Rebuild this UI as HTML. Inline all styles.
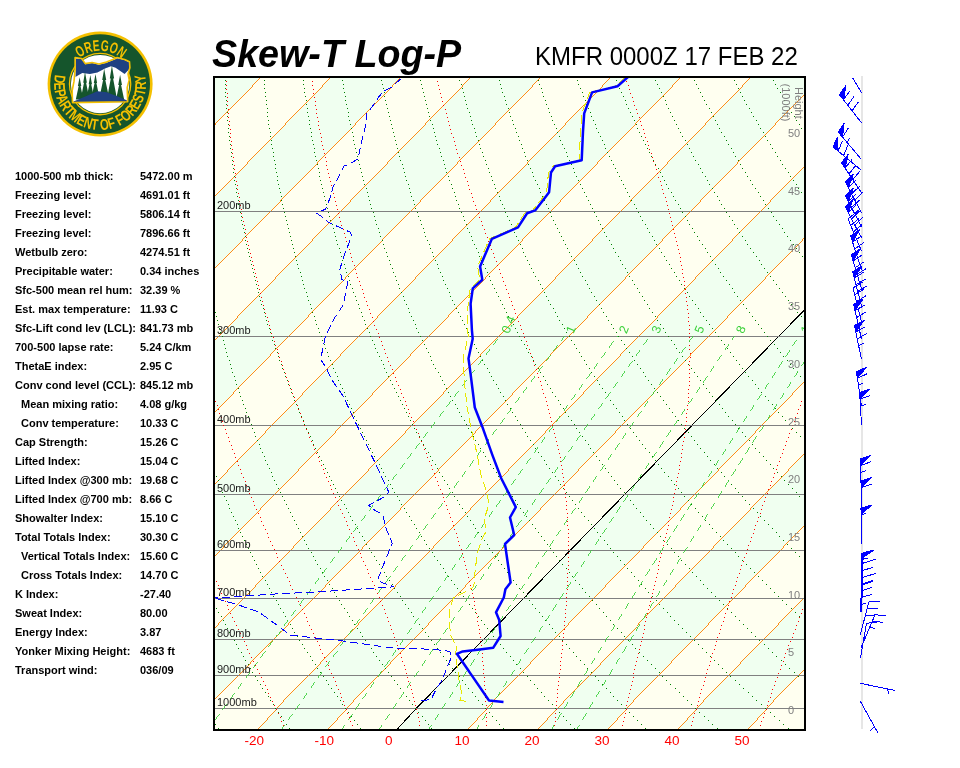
<!DOCTYPE html>
<html><head><meta charset="utf-8"><title>Skew-T Log-P</title>
<style>
html,body{margin:0;padding:0;background:#fff;}
body{width:960px;height:768px;position:relative;overflow:hidden;font-family:"Liberation Sans",sans-serif;}
#title{position:absolute;left:212px;top:28.5px;transform:scaleY(1.045);transform-origin:0 75%;font-size:37.7px;font-weight:bold;font-style:italic;line-height:50px;white-space:nowrap;color:#000;}
#sub{position:absolute;left:534.5px;top:42px;transform:scaleY(1.04);transform-origin:0 75%;font-size:24px;line-height:30px;white-space:nowrap;color:#000;}
#frame{position:absolute;left:213px;top:76px;width:589px;height:651px;border:2px solid #000;}
svg{position:absolute;left:0;top:0;will-change:transform;}
.row,#title,#sub{will-change:transform;}
.row{position:absolute;left:15px;font-size:11px;font-weight:bold;line-height:19px;white-space:nowrap;color:#000;}
.row span{position:absolute;left:125px;top:0;}
.row.ind{left:21px;}
.row.ind span{left:119px;}
</style></head><body>
<svg width="960" height="768" viewBox="0 0 960 768" shape-rendering="crispEdges" font-family="Liberation Sans, sans-serif">
<defs><clipPath id="pc"><rect x="215" y="78" width="589" height="651"/></clipPath></defs>
<g clip-path="url(#pc)">
<rect x="215" y="78" width="589" height="651" fill="#fffff0"/>
<polygon points="-582.6,729.0 -563.8,708.5 50.3,78.0 120.3,78.0 -493.8,708.5 -512.6,729.0" fill="#f0fff0"/>
<polygon points="-442.6,729.0 -423.8,708.5 190.3,78.0 260.3,78.0 -353.8,708.5 -372.6,729.0" fill="#f0fff0"/>
<polygon points="-302.6,729.0 -283.8,708.5 330.3,78.0 400.3,78.0 -213.8,708.5 -232.6,729.0" fill="#f0fff0"/>
<polygon points="-162.6,729.0 -143.8,708.5 470.3,78.0 540.3,78.0 -73.8,708.5 -92.6,729.0" fill="#f0fff0"/>
<polygon points="-22.6,729.0 -3.8,708.5 610.3,78.0 680.3,78.0 66.2,708.5 47.4,729.0" fill="#f0fff0"/>
<polygon points="117.4,729.0 136.2,708.5 750.3,78.0 820.3,78.0 206.2,708.5 187.4,729.0" fill="#f0fff0"/>
<polygon points="257.4,729.0 276.2,708.5 890.3,78.0 960.3,78.0 346.2,708.5 327.4,729.0" fill="#f0fff0"/>
<polygon points="397.4,729.0 416.2,708.5 1030.3,78.0 1100.3,78.0 486.2,708.5 467.4,729.0" fill="#f0fff0"/>
<polygon points="537.4,729.0 556.2,708.5 1170.3,78.0 1240.3,78.0 626.2,708.5 607.4,729.0" fill="#f0fff0"/>
<polygon points="677.4,729.0 696.2,708.5 1310.3,78.0 1380.3,78.0 766.2,708.5 747.4,729.0" fill="#f0fff0"/>
<polygon points="817.4,729.0 836.2,708.5 1450.3,78.0 1520.3,78.0 906.2,708.5 887.4,729.0" fill="#f0fff0"/>
<polyline points="-582.6,729 -563.8,708.5 50.3,78" fill="none" stroke="#ff8000" stroke-width="0.9" shape-rendering="crispEdges"/>
<polyline points="-512.6,729 -493.8,708.5 120.3,78" fill="none" stroke="#ff8000" stroke-width="0.9" shape-rendering="crispEdges"/>
<polyline points="-442.6,729 -423.8,708.5 190.3,78" fill="none" stroke="#ff8000" stroke-width="0.9" shape-rendering="crispEdges"/>
<polyline points="-372.6,729 -353.8,708.5 260.3,78" fill="none" stroke="#ff8000" stroke-width="0.9" shape-rendering="crispEdges"/>
<polyline points="-302.6,729 -283.8,708.5 330.3,78" fill="none" stroke="#ff8000" stroke-width="0.9" shape-rendering="crispEdges"/>
<polyline points="-232.6,729 -213.8,708.5 400.3,78" fill="none" stroke="#ff8000" stroke-width="0.9" shape-rendering="crispEdges"/>
<polyline points="-162.6,729 -143.8,708.5 470.3,78" fill="none" stroke="#ff8000" stroke-width="0.9" shape-rendering="crispEdges"/>
<polyline points="-92.6,729 -73.8,708.5 540.3,78" fill="none" stroke="#ff8000" stroke-width="0.9" shape-rendering="crispEdges"/>
<polyline points="-22.6,729 -3.8,708.5 610.3,78" fill="none" stroke="#ff8000" stroke-width="0.9" shape-rendering="crispEdges"/>
<polyline points="47.4,729 66.2,708.5 680.3,78" fill="none" stroke="#ff8000" stroke-width="0.9" shape-rendering="crispEdges"/>
<polyline points="117.4,729 136.2,708.5 750.3,78" fill="none" stroke="#ff8000" stroke-width="0.9" shape-rendering="crispEdges"/>
<polyline points="187.4,729 206.2,708.5 820.3,78" fill="none" stroke="#ff8000" stroke-width="0.9" shape-rendering="crispEdges"/>
<polyline points="257.4,729 276.2,708.5 890.3,78" fill="none" stroke="#ff8000" stroke-width="0.9" shape-rendering="crispEdges"/>
<polyline points="327.4,729 346.2,708.5 960.3,78" fill="none" stroke="#ff8000" stroke-width="0.9" shape-rendering="crispEdges"/>
<polyline points="397.4,729 416.2,708.5 1030.3,78" fill="none" stroke="#000" stroke-width="1.0" shape-rendering="crispEdges"/>
<polyline points="467.4,729 486.2,708.5 1100.3,78" fill="none" stroke="#ff8000" stroke-width="0.9" shape-rendering="crispEdges"/>
<polyline points="537.4,729 556.2,708.5 1170.3,78" fill="none" stroke="#ff8000" stroke-width="0.9" shape-rendering="crispEdges"/>
<polyline points="607.4,729 626.2,708.5 1240.3,78" fill="none" stroke="#ff8000" stroke-width="0.9" shape-rendering="crispEdges"/>
<polyline points="677.4,729 696.2,708.5 1310.3,78" fill="none" stroke="#ff8000" stroke-width="0.9" shape-rendering="crispEdges"/>
<polyline points="747.4,729 766.2,708.5 1380.3,78" fill="none" stroke="#ff8000" stroke-width="0.9" shape-rendering="crispEdges"/>
<polyline points="817.4,729 836.2,708.5 1450.3,78" fill="none" stroke="#ff8000" stroke-width="0.9" shape-rendering="crispEdges"/>
<rect x="215" y="211" width="589" height="1" fill="#808080"/>
<rect x="215" y="336" width="589" height="1" fill="#808080"/>
<rect x="215" y="425" width="589" height="1" fill="#808080"/>
<rect x="215" y="494" width="589" height="1" fill="#808080"/>
<rect x="215" y="550" width="589" height="1" fill="#808080"/>
<rect x="215" y="598" width="589" height="1" fill="#808080"/>
<rect x="215" y="639" width="589" height="1" fill="#808080"/>
<rect x="215" y="675" width="589" height="1" fill="#808080"/>
<rect x="215" y="708" width="589" height="1" fill="#808080"/>
<path d="M215 724h1M218 728h1" stroke="#008000" stroke-width="1" fill="none" transform="translate(0,0.5)"/>
<path d="M216 608h1M218 612h1M221 616h1M223 620h1M225 624h1M227 628h1M229 632h1M231 636h1M234 640h1M236 644h1M238 648h1M241 652h1M243 656h1M245 660h1M248 664h1M250 668h1M252 672h1M255 676h1M257 680h1M260 684h1M262 688h1M265 692h1M268 696h1M270 700h1M273 704h1M275 708h1M278 712h1M281 716h1M283 720h1M286 724h1M289 728h1" stroke="#008000" stroke-width="1" fill="none" transform="translate(0,0.5)"/>
<path d="M216 476h1M218 480h1M219 484h1M221 488h1M222 492h1M224 496h1M226 500h1M228 504h1M229 508h1M231 512h1M233 516h1M235 520h1M237 524h1M238 528h1M240 532h1M242 536h1M244 540h1M246 544h1M248 548h1M250 552h1M252 556h1M254 560h1M256 564h1M258 568h1M260 572h1M262 576h1M265 580h1M267 584h1M269 588h1M271 592h1M273 596h1M276 600h1M278 604h1M280 608h1M283 612h1M285 616h1M287 620h1M290 624h1M292 628h1M294 632h1M297 636h1M299 640h1M302 644h1M304 648h1M307 652h1M310 656h1M312 660h1M315 664h1M317 668h1M320 672h1M323 676h1M326 680h1M328 684h1M331 688h1M334 692h1M337 696h1M340 700h1M342 704h1M345 708h1M348 712h1M351 716h1M354 720h1M357 724h1M360 728h1" stroke="#008000" stroke-width="1" fill="none" transform="translate(0,0.5)"/>
<path d="M215 312h1M216 316h1M217 320h1M218 324h1M219 328h1M220 332h1M222 336h1M223 340h1M224 344h1M225 348h1M226 352h1M227 356h1M229 360h1M230 364h1M231 368h1M232 372h1M234 376h1M235 380h1M236 384h1M238 388h1M239 392h1M240 396h1M242 400h1M243 404h1M245 408h1M246 412h1M248 416h1M249 420h1M251 424h1M252 428h1M254 432h1M255 436h1M257 440h1M259 444h1M260 448h1M262 452h1M264 456h1M265 460h1M267 464h1M269 468h1M271 472h1M272 476h1M274 480h1M276 484h1M278 488h1M280 492h1M282 496h1M284 500h1M286 504h1M288 508h1M290 512h1M292 516h1M294 520h1M296 524h1M298 528h1M300 532h1M302 536h1M304 540h1M306 544h1M308 548h1M311 552h1M313 556h1M315 560h1M317 564h1M320 568h1M322 572h1M324 576h1M327 580h1M329 584h1M332 588h1M334 592h1M336 596h1M339 600h1M341 604h1M344 608h1M347 612h1M349 616h1M352 620h1M354 624h1M357 628h1M360 632h1M362 636h1M365 640h1M368 644h1M371 648h1M373 652h1M376 656h1M379 660h1M382 664h1M385 668h1M388 672h1M391 676h1M394 680h1M397 684h1M400 688h1M403 692h1M406 696h1M409 700h1M412 704h1M415 708h1M418 712h1M422 716h1M425 720h1M428 724h1M431 728h1" stroke="#008000" stroke-width="1" fill="none" transform="translate(0,0.5)"/>
<path d="M225 80h1M225 84h1M225 88h1M225 92h1M225 96h1M226 100h1M226 104h1M226 108h1M227 112h1M227 116h1M227 120h1M228 124h1M228 128h1M228 132h1M229 136h1M229 140h1M230 144h1M230 148h1M231 152h1M231 156h1M232 160h1M232 164h1M233 168h1M233 172h1M234 176h1M234 180h1M235 184h1M236 188h1M236 192h1M237 196h1M238 200h1M238 204h1M239 208h1M240 212h1M241 216h1M241 220h1M242 224h1M243 228h1M244 232h1M245 236h1M245 240h1M246 244h1M247 248h1M248 252h1M249 256h1M250 260h1M251 264h1M252 268h1M253 272h1M254 276h1M255 280h1M256 284h1M257 288h1M258 292h1M259 296h1M260 300h1M261 304h1M263 308h1M264 312h1M265 316h1M266 320h1M267 324h1M269 328h1M270 332h1M271 336h1M272 340h1M274 344h1M275 348h1M277 352h1M278 356h1M279 360h1M281 364h1M282 368h1M284 372h1M285 376h1M287 380h1M288 384h1M290 388h1M291 392h1M293 396h1M294 400h1M296 404h1M298 408h1M299 412h1M301 416h1M303 420h1M304 424h1M306 428h1M308 432h1M310 436h1M312 440h1M313 444h1M315 448h1M317 452h1M319 456h1M321 460h1M323 464h1M325 468h1M327 472h1M329 476h1M331 480h1M333 484h1M335 488h1M337 492h1M339 496h1M341 500h1M344 504h1M346 508h1M348 512h1M350 516h1M352 520h1M355 524h1M357 528h1M359 532h1M362 536h1M364 540h1M366 544h1M369 548h1M371 552h1M374 556h1M376 560h1M379 564h1M381 568h1M384 572h1M386 576h1M389 580h1M392 584h1M394 588h1M397 592h1M400 596h1M402 600h1M405 604h1M408 608h1M411 612h1M413 616h1M416 620h1M419 624h1M422 628h1M425 632h1M428 636h1M431 640h1M434 644h1M437 648h1M440 652h1M443 656h1M446 660h1M449 664h1M452 668h1M455 672h1M459 676h1M462 680h1M465 684h1M468 688h1M472 692h1M475 696h1M478 700h1M482 704h1M485 708h1M489 712h1M492 716h1M496 720h1M499 724h1M503 728h1" stroke="#008000" stroke-width="1" fill="none" transform="translate(0,0.5)"/>
<path d="M264 80h1M264 84h1M264 88h1M265 92h1M265 96h1M266 100h1M266 104h1M267 108h1M267 112h1M267 116h1M268 120h1M268 124h1M269 128h1M270 132h1M270 136h1M271 140h1M271 144h1M272 148h1M273 152h1M273 156h1M274 160h1M275 164h1M275 168h1M276 172h1M277 176h1M277 180h1M278 184h1M279 188h1M280 192h1M281 196h1M281 200h1M282 204h1M283 208h1M284 212h1M285 216h1M286 220h1M287 224h1M288 228h1M289 232h1M290 236h1M291 240h1M292 244h1M293 248h1M294 252h1M295 256h1M296 260h1M297 264h1M298 268h1M300 272h1M301 276h1M302 280h1M303 284h1M304 288h1M306 292h1M307 296h1M308 300h1M310 304h1M311 308h1M312 312h1M314 316h1M315 320h1M316 324h1M318 328h1M319 332h1M321 336h1M322 340h1M324 344h1M325 348h1M327 352h1M328 356h1M330 360h1M332 364h1M333 368h1M335 372h1M337 376h1M338 380h1M340 384h1M342 388h1M344 392h1M345 396h1M347 400h1M349 404h1M351 408h1M353 412h1M354 416h1M356 420h1M358 424h1M360 428h1M362 432h1M364 436h1M366 440h1M368 444h1M370 448h1M372 452h1M374 456h1M377 460h1M379 464h1M381 468h1M383 472h1M385 476h1M388 480h1M390 484h1M392 488h1M394 492h1M397 496h1M399 500h1M401 504h1M404 508h1M406 512h1M409 516h1M411 520h1M414 524h1M416 528h1M419 532h1M421 536h1M424 540h1M426 544h1M429 548h1M432 552h1M434 556h1M437 560h1M440 564h1M443 568h1M445 572h1M448 576h1M451 580h1M454 584h1M457 588h1M460 592h1M463 596h1M466 600h1M469 604h1M472 608h1M475 612h1M478 616h1M481 620h1M484 624h1M487 628h1M490 632h1M493 636h1M497 640h1M500 644h1M503 648h1M506 652h1M510 656h1M513 660h1M516 664h1M520 668h1M523 672h1M527 676h1M530 680h1M534 684h1M537 688h1M541 692h1M544 696h1M548 700h1M552 704h1M555 708h1M559 712h1M563 716h1M566 720h1M570 724h1M574 728h1" stroke="#008000" stroke-width="1" fill="none" transform="translate(0,0.5)"/>
<path d="M303 80h1M303 84h1M304 88h1M304 92h1M305 96h1M306 100h1M306 104h1M307 108h1M307 112h1M308 116h1M309 120h1M309 124h1M310 128h1M311 132h1M311 136h1M312 140h1M313 144h1M314 148h1M314 152h1M315 156h1M316 160h1M317 164h1M318 168h1M319 172h1M319 176h1M320 180h1M321 184h1M322 188h1M323 192h1M324 196h1M325 200h1M326 204h1M327 208h1M328 212h1M329 216h1M330 220h1M332 224h1M333 228h1M334 232h1M335 236h1M336 240h1M337 244h1M339 248h1M340 252h1M341 256h1M342 260h1M344 264h1M345 268h1M346 272h1M348 276h1M349 280h1M350 284h1M352 288h1M353 292h1M355 296h1M356 300h1M358 304h1M359 308h1M361 312h1M362 316h1M364 320h1M365 324h1M367 328h1M369 332h1M370 336h1M372 340h1M374 344h1M375 348h1M377 352h1M379 356h1M381 360h1M383 364h1M384 368h1M386 372h1M388 376h1M390 380h1M392 384h1M394 388h1M396 392h1M398 396h1M400 400h1M402 404h1M404 408h1M406 412h1M408 416h1M410 420h1M412 424h1M414 428h1M416 432h1M419 436h1M421 440h1M423 444h1M425 448h1M428 452h1M430 456h1M432 460h1M435 464h1M437 468h1M439 472h1M442 476h1M444 480h1M447 484h1M449 488h1M452 492h1M454 496h1M457 500h1M459 504h1M462 508h1M465 512h1M467 516h1M470 520h1M473 524h1M475 528h1M478 532h1M481 536h1M484 540h1M487 544h1M489 548h1M492 552h1M495 556h1M498 560h1M501 564h1M504 568h1M507 572h1M510 576h1M513 580h1M516 584h1M519 588h1M523 592h1M526 596h1M529 600h1M532 604h1M535 608h1M539 612h1M542 616h1M545 620h1M549 624h1M552 628h1M555 632h1M559 636h1M562 640h1M566 644h1M569 648h1M573 652h1M576 656h1M580 660h1M584 664h1M587 668h1M591 672h1M595 676h1M598 680h1M602 684h1M606 688h1M610 692h1M613 696h1M617 700h1M621 704h1M625 708h1M629 712h1M633 716h1M637 720h1M641 724h1M645 728h1" stroke="#008000" stroke-width="1" fill="none" transform="translate(0,0.5)"/>
<path d="M342 80h1M343 84h1M343 88h1M344 92h1M345 96h1M345 100h1M346 104h1M347 108h1M348 112h1M348 116h1M349 120h1M350 124h1M351 128h1M352 132h1M353 136h1M353 140h1M354 144h1M355 148h1M356 152h1M357 156h1M358 160h1M359 164h1M360 168h1M361 172h1M362 176h1M363 180h1M364 184h1M366 188h1M367 192h1M368 196h1M369 200h1M370 204h1M371 208h1M373 212h1M374 216h1M375 220h1M376 224h1M378 228h1M379 232h1M380 236h1M382 240h1M383 244h1M384 248h1M386 252h1M387 256h1M389 260h1M390 264h1M392 268h1M393 272h1M395 276h1M396 280h1M398 284h1M399 288h1M401 292h1M403 296h1M404 300h1M406 304h1M408 308h1M409 312h1M411 316h1M413 320h1M415 324h1M416 328h1M418 332h1M420 336h1M422 340h1M424 344h1M426 348h1M428 352h1M430 356h1M431 360h1M433 364h1M435 368h1M438 372h1M440 376h1M442 380h1M444 384h1M446 388h1M448 392h1M450 396h1M452 400h1M455 404h1M457 408h1M459 412h1M461 416h1M464 420h1M466 424h1M468 428h1M471 432h1M473 436h1M475 440h1M478 444h1M480 448h1M483 452h1M485 456h1M488 460h1M490 464h1M493 468h1M496 472h1M498 476h1M501 480h1M504 484h1M506 488h1M509 492h1M512 496h1M515 500h1M517 504h1M520 508h1M523 512h1M526 516h1M529 520h1M532 524h1M535 528h1M538 532h1M541 536h1M544 540h1M547 544h1M550 548h1M553 552h1M556 556h1M559 560h1M562 564h1M566 568h1M569 572h1M572 576h1M575 580h1M579 584h1M582 588h1M585 592h1M589 596h1M592 600h1M596 604h1M599 608h1M603 612h1M606 616h1M610 620h1M613 624h1M617 628h1M621 632h1M624 636h1M628 640h1M632 644h1M635 648h1M639 652h1M643 656h1M647 660h1M651 664h1M655 668h1M659 672h1M662 676h1M666 680h1M670 684h1M675 688h1M679 692h1M683 696h1M687 700h1M691 704h1M695 708h1M699 712h1M704 716h1M708 720h1M712 724h1M717 728h1" stroke="#008000" stroke-width="1" fill="none" transform="translate(0,0.5)"/>
<path d="M381 80h1M382 84h1M383 88h1M384 92h1M384 96h1M385 100h1M386 104h1M387 108h1M388 112h1M389 116h1M390 120h1M391 124h1M392 128h1M393 132h1M394 136h1M395 140h1M396 144h1M397 148h1M398 152h1M399 156h1M400 160h1M402 164h1M403 168h1M404 172h1M405 176h1M406 180h1M408 184h1M409 188h1M410 192h1M411 196h1M413 200h1M414 204h1M415 208h1M417 212h1M418 216h1M420 220h1M421 224h1M423 228h1M424 232h1M425 236h1M427 240h1M429 244h1M430 248h1M432 252h1M433 256h1M435 260h1M437 264h1M438 268h1M440 272h1M442 276h1M443 280h1M445 284h1M447 288h1M449 292h1M450 296h1M452 300h1M454 304h1M456 308h1M458 312h1M460 316h1M462 320h1M464 324h1M466 328h1M468 332h1M470 336h1M472 340h1M474 344h1M476 348h1M478 352h1M480 356h1M482 360h1M484 364h1M487 368h1M489 372h1M491 376h1M493 380h1M496 384h1M498 388h1M500 392h1M503 396h1M505 400h1M507 404h1M510 408h1M512 412h1M515 416h1M517 420h1M520 424h1M522 428h1M525 432h1M527 436h1M530 440h1M533 444h1M535 448h1M538 452h1M541 456h1M544 460h1M546 464h1M549 468h1M552 472h1M555 476h1M558 480h1M560 484h1M563 488h1M566 492h1M569 496h1M572 500h1M575 504h1M578 508h1M581 512h1M584 516h1M588 520h1M591 524h1M594 528h1M597 532h1M600 536h1M604 540h1M607 544h1M610 548h1M613 552h1M617 556h1M620 560h1M624 564h1M627 568h1M631 572h1M634 576h1M638 580h1M641 584h1M645 588h1M648 592h1M652 596h1M656 600h1M659 604h1M663 608h1M667 612h1M670 616h1M674 620h1M678 624h1M682 628h1M686 632h1M690 636h1M694 640h1M698 644h1M702 648h1M706 652h1M710 656h1M714 660h1M718 664h1M722 668h1M726 672h1M730 676h1M735 680h1M739 684h1M743 688h1M748 692h1M752 696h1M756 700h1M761 704h1M765 708h1M770 712h1M774 716h1M779 720h1M783 724h1M788 728h1" stroke="#008000" stroke-width="1" fill="none" transform="translate(0,0.5)"/>
<path d="M420 80h1M421 84h1M422 88h1M423 92h1M424 96h1M425 100h1M426 104h1M427 108h1M428 112h1M429 116h1M430 120h1M432 124h1M433 128h1M434 132h1M435 136h1M436 140h1M437 144h1M439 148h1M440 152h1M441 156h1M443 160h1M444 164h1M445 168h1M446 172h1M448 176h1M449 180h1M451 184h1M452 188h1M454 192h1M455 196h1M456 200h1M458 204h1M459 208h1M461 212h1M463 216h1M464 220h1M466 224h1M467 228h1M469 232h1M471 236h1M472 240h1M474 244h1M476 248h1M478 252h1M479 256h1M481 260h1M483 264h1M485 268h1M487 272h1M489 276h1M490 280h1M492 284h1M494 288h1M496 292h1M498 296h1M500 300h1M502 304h1M504 308h1M506 312h1M508 316h1M511 320h1M513 324h1M515 328h1M517 332h1M519 336h1M521 340h1M524 344h1M526 348h1M528 352h1M531 356h1M533 360h1M535 364h1M538 368h1M540 372h1M543 376h1M545 380h1M547 384h1M550 388h1M552 392h1M555 396h1M558 400h1M560 404h1M563 408h1M565 412h1M568 416h1M571 420h1M574 424h1M576 428h1M579 432h1M582 436h1M585 440h1M588 444h1M590 448h1M593 452h1M596 456h1M599 460h1M602 464h1M605 468h1M608 472h1M611 476h1M614 480h1M617 484h1M620 488h1M624 492h1M627 496h1M630 500h1M633 504h1M636 508h1M640 512h1M643 516h1M646 520h1M650 524h1M653 528h1M657 532h1M660 536h1M663 540h1M667 544h1M671 548h1M674 552h1M678 556h1M681 560h1M685 564h1M689 568h1M692 572h1M696 576h1M700 580h1M703 584h1M707 588h1M711 592h1M715 596h1M719 600h1M723 604h1M727 608h1M731 612h1M735 616h1M739 620h1M743 624h1M747 628h1M751 632h1M755 636h1M759 640h1M764 644h1M768 648h1M772 652h1M776 656h1M781 660h1M785 664h1M789 668h1M794 672h1M798 676h1" stroke="#008000" stroke-width="1" fill="none" transform="translate(0,0.5)"/>
<path d="M459 80h1M461 84h1M462 88h1M463 92h1M464 96h1M465 100h1M466 104h1M467 108h1M469 112h1M470 116h1M471 120h1M472 124h1M474 128h1M475 132h1M476 136h1M478 140h1M479 144h1M480 148h1M482 152h1M483 156h1M485 160h1M486 164h1M488 168h1M489 172h1M491 176h1M492 180h1M494 184h1M495 188h1M497 192h1M499 196h1M500 200h1M502 204h1M504 208h1M505 212h1M507 216h1M509 220h1M511 224h1M512 228h1M514 232h1M516 236h1M518 240h1M520 244h1M522 248h1M523 252h1M525 256h1M527 260h1M529 264h1M531 268h1M533 272h1M535 276h1M538 280h1M540 284h1M542 288h1M544 292h1M546 296h1M548 300h1M550 304h1M553 308h1M555 312h1M557 316h1M559 320h1M562 324h1M564 328h1M566 332h1M569 336h1M571 340h1M574 344h1M576 348h1M579 352h1M581 356h1M584 360h1M586 364h1M589 368h1M591 372h1M594 376h1M597 380h1M599 384h1M602 388h1M605 392h1M607 396h1M610 400h1M613 404h1M616 408h1M619 412h1M622 416h1M624 420h1M627 424h1M630 428h1M633 432h1M636 436h1M639 440h1M642 444h1M645 448h1M649 452h1M652 456h1M655 460h1M658 464h1M661 468h1M664 472h1M668 476h1M671 480h1M674 484h1M678 488h1M681 492h1M684 496h1M688 500h1M691 504h1M695 508h1M698 512h1M702 516h1M705 520h1M709 524h1M712 528h1M716 532h1M720 536h1M723 540h1M727 544h1M731 548h1M735 552h1M738 556h1M742 560h1M746 564h1M750 568h1M754 572h1M758 576h1M762 580h1M766 584h1M770 588h1M774 592h1M778 596h1M782 600h1M786 604h1M791 608h1M795 612h1M799 616h1" stroke="#008000" stroke-width="1" fill="none" transform="translate(0,0.5)"/>
<path d="M499 80h1M500 84h1M501 88h1M502 92h1M504 96h1M505 100h1M506 104h1M508 108h1M509 112h1M510 116h1M512 120h1M513 124h1M515 128h1M516 132h1M518 136h1M519 140h1M521 144h1M522 148h1M524 152h1M525 156h1M527 160h1M528 164h1M530 168h1M532 172h1M533 176h1M535 180h1M537 184h1M539 188h1M540 192h1M542 196h1M544 200h1M546 204h1M548 208h1M550 212h1M551 216h1M553 220h1M555 224h1M557 228h1M559 232h1M561 236h1M563 240h1M565 244h1M567 248h1M569 252h1M571 256h1M574 260h1M576 264h1M578 268h1M580 272h1M582 276h1M585 280h1M587 284h1M589 288h1M591 292h1M594 296h1M596 300h1M599 304h1M601 308h1M603 312h1M606 316h1M608 320h1M611 324h1M613 328h1M616 332h1M618 336h1M621 340h1M624 344h1M626 348h1M629 352h1M632 356h1M634 360h1M637 364h1M640 368h1M643 372h1M645 376h1M648 380h1M651 384h1M654 388h1M657 392h1M660 396h1M663 400h1M666 404h1M669 408h1M672 412h1M675 416h1M678 420h1M681 424h1M684 428h1M688 432h1M691 436h1M694 440h1M697 444h1M700 448h1M704 452h1M707 456h1M710 460h1M714 464h1M717 468h1M721 472h1M724 476h1M728 480h1M731 484h1M735 488h1M738 492h1M742 496h1M745 500h1M749 504h1M753 508h1M757 512h1M760 516h1M764 520h1M768 524h1M772 528h1M776 532h1M779 536h1M783 540h1M787 544h1M791 548h1M795 552h1M799 556h1" stroke="#008000" stroke-width="1" fill="none" transform="translate(0,0.5)"/>
<path d="M538 80h1M539 84h1M541 88h1M542 92h1M543 96h1M545 100h1M546 104h1M548 108h1M549 112h1M551 116h1M552 120h1M554 124h1M556 128h1M557 132h1M559 136h1M560 140h1M562 144h1M564 148h1M566 152h1M567 156h1M569 160h1M571 164h1M573 168h1M574 172h1M576 176h1M578 180h1M580 184h1M582 188h1M584 192h1M586 196h1M588 200h1M590 204h1M592 208h1M594 212h1M596 216h1M598 220h1M600 224h1M602 228h1M604 232h1M606 236h1M609 240h1M611 244h1M613 248h1M615 252h1M618 256h1M620 260h1M622 264h1M625 268h1M627 272h1M629 276h1M632 280h1M634 284h1M637 288h1M639 292h1M642 296h1M644 300h1M647 304h1M649 308h1M652 312h1M655 316h1M657 320h1M660 324h1M663 328h1M665 332h1M668 336h1M671 340h1M674 344h1M676 348h1M679 352h1M682 356h1M685 360h1M688 364h1M691 368h1M694 372h1M697 376h1M700 380h1M703 384h1M706 388h1M709 392h1M712 396h1M716 400h1M719 404h1M722 408h1M725 412h1M728 416h1M732 420h1M735 424h1M738 428h1M742 432h1M745 436h1M749 440h1M752 444h1M755 448h1M759 452h1M763 456h1M766 460h1M770 464h1M773 468h1M777 472h1M781 476h1M784 480h1M788 484h1M792 488h1M796 492h1M799 496h1" stroke="#008000" stroke-width="1" fill="none" transform="translate(0,0.5)"/>
<path d="M577 80h1M578 84h1M580 88h1M582 92h1M583 96h1M585 100h1M586 104h1M588 108h1M590 112h1M591 116h1M593 120h1M595 124h1M596 128h1M598 132h1M600 136h1M602 140h1M604 144h1M605 148h1M607 152h1M609 156h1M611 160h1M613 164h1M615 168h1M617 172h1M619 176h1M621 180h1M623 184h1M625 188h1M627 192h1M629 196h1M631 200h1M634 204h1M636 208h1M638 212h1M640 216h1M642 220h1M645 224h1M647 228h1M649 232h1M652 236h1M654 240h1M656 244h1M659 248h1M661 252h1M664 256h1M666 260h1M669 264h1M671 268h1M674 272h1M676 276h1M679 280h1M681 284h1M684 288h1M687 292h1M689 296h1M692 300h1M695 304h1M698 308h1M700 312h1M703 316h1M706 320h1M709 324h1M712 328h1M715 332h1M718 336h1M721 340h1M724 344h1M727 348h1M730 352h1M733 356h1M736 360h1M739 364h1M742 368h1M745 372h1M748 376h1M752 380h1M755 384h1M758 388h1M761 392h1M765 396h1M768 400h1M772 404h1M775 408h1M778 412h1M782 416h1M785 420h1M789 424h1M792 428h1M796 432h1M800 436h1" stroke="#008000" stroke-width="1" fill="none" transform="translate(0,0.5)"/>
<path d="M616 80h1M618 84h1M619 88h1M621 92h1M623 96h1M625 100h1M626 104h1M628 108h1M630 112h1M632 116h1M634 120h1M636 124h1M637 128h1M639 132h1M641 136h1M643 140h1M645 144h1M647 148h1M649 152h1M651 156h1M653 160h1M655 164h1M658 168h1M660 172h1M662 176h1M664 180h1M666 184h1M668 188h1M671 192h1M673 196h1M675 200h1M678 204h1M680 208h1M682 212h1M685 216h1M687 220h1M689 224h1M692 228h1M694 232h1M697 236h1M699 240h1M702 244h1M705 248h1M707 252h1M710 256h1M712 260h1M715 264h1M718 268h1M720 272h1M723 276h1M726 280h1M729 284h1M732 288h1M734 292h1M737 296h1M740 300h1M743 304h1M746 308h1M749 312h1M752 316h1M755 320h1M758 324h1M761 328h1M764 332h1M767 336h1M770 340h1M774 344h1M777 348h1M780 352h1M783 356h1M787 360h1M790 364h1M793 368h1M797 372h1M800 376h1" stroke="#008000" stroke-width="1" fill="none" transform="translate(0,0.5)"/>
<path d="M655 80h1M657 84h1M659 88h1M661 92h1M663 96h1M665 100h1M666 104h1M668 108h1M670 112h1M672 116h1M674 120h1M676 124h1M678 128h1M680 132h1M682 136h1M685 140h1M687 144h1M689 148h1M691 152h1M693 156h1M695 160h1M698 164h1M700 168h1M702 172h1M705 176h1M707 180h1M709 184h1M712 188h1M714 192h1M717 196h1M719 200h1M721 204h1M724 208h1M726 212h1M729 216h1M732 220h1M734 224h1M737 228h1M739 232h1M742 236h1M745 240h1M747 244h1M750 248h1M753 252h1M756 256h1M759 260h1M761 264h1M764 268h1M767 272h1M770 276h1M773 280h1M776 284h1M779 288h1M782 292h1M785 296h1M788 300h1M791 304h1M794 308h1M797 312h1M801 316h1" stroke="#008000" stroke-width="1" fill="none" transform="translate(0,0.5)"/>
<path d="M694 80h1M696 84h1M698 88h1M700 92h1M702 96h1M704 100h1M706 104h1M709 108h1M711 112h1M713 116h1M715 120h1M717 124h1M719 128h1M721 132h1M724 136h1M726 140h1M728 144h1M731 148h1M733 152h1M735 156h1M738 160h1M740 164h1M742 168h1M745 172h1M747 176h1M750 180h1M752 184h1M755 188h1M758 192h1M760 196h1M763 200h1M765 204h1M768 208h1M771 212h1M773 216h1M776 220h1M779 224h1M782 228h1M784 232h1M787 236h1M790 240h1M793 244h1M796 248h1M799 252h1M802 256h1" stroke="#008000" stroke-width="1" fill="none" transform="translate(0,0.5)"/>
<path d="M734 80h1M736 84h1M738 88h1M740 92h1M742 96h1M744 100h1M746 104h1M749 108h1M751 112h1M753 116h1M756 120h1M758 124h1M760 128h1M763 132h1M765 136h1M767 140h1M770 144h1M772 148h1M775 152h1M777 156h1M780 160h1M782 164h1M785 168h1M788 172h1M790 176h1M793 180h1M796 184h1M798 188h1M801 192h1" stroke="#008000" stroke-width="1" fill="none" transform="translate(0,0.5)"/>
<path d="M773 80h1M775 84h1M777 88h1M780 92h1M782 96h1M784 100h1M787 104h1M789 108h1M791 112h1M794 116h1M796 120h1M799 124h1M801 128h1" stroke="#008000" stroke-width="1" fill="none" transform="translate(0,0.5)"/>
<path d="M216 581h1M218 585h1M219 589h1M221 593h1M223 597h1M225 601h1M227 605h1M228 609h1M230 613h1M232 617h1M234 621h1M236 625h1M238 629h1M240 633h1M242 637h1M244 641h1M246 645h1M247 649h1M249 653h1M251 657h1M253 661h1M255 665h1M257 669h1M259 673h1M261 677h1M263 681h1M265 685h1M267 689h1M268 693h1M270 697h1M272 701h1M274 705h1M276 709h1M278 713h1M280 717h1M281 721h1M283 725h1" stroke="#ff0000" stroke-width="1" fill="none" transform="translate(0,0.5)"/>
<path d="M215 401h1M217 405h1M218 409h1M219 413h1M221 417h1M222 421h1M223 425h1M225 429h1M226 433h1M228 437h1M229 441h1M231 445h1M232 449h1M234 453h1M235 457h1M237 461h1M238 465h1M240 469h1M241 473h1M243 477h1M245 481h1M246 485h1M248 489h1M249 493h1M251 497h1M253 501h1M254 505h1M256 509h1M258 513h1M260 517h1M261 521h1M263 525h1M265 529h1M267 533h1M268 537h1M270 541h1M272 545h1M274 549h1M276 553h1M277 557h1M279 561h1M281 565h1M283 569h1M285 573h1M287 577h1M289 581h1M290 585h1M292 589h1M294 593h1M296 597h1M298 601h1M300 605h1M302 609h1M304 613h1M306 617h1M307 621h1M309 625h1M311 629h1M313 633h1M315 637h1M317 641h1M319 645h1M320 649h1M322 653h1M324 657h1M326 661h1M328 665h1M329 669h1M331 673h1M333 677h1M335 681h1M336 685h1M338 689h1M340 693h1M341 697h1M343 701h1M344 705h1M346 709h1M347 713h1M349 717h1M350 721h1M352 725h1" stroke="#ff0000" stroke-width="1" fill="none" transform="translate(0,0.5)"/>
<path d="M226 81h1M226 85h1M226 89h1M227 93h1M227 97h1M227 101h1M227 105h1M228 109h1M228 113h1M228 117h1M229 121h1M229 125h1M230 129h1M230 133h1M230 137h1M231 141h1M231 145h1M232 149h1M232 153h1M233 157h1M233 161h1M234 165h1M234 169h1M235 173h1M235 177h1M236 181h1M237 185h1M237 189h1M238 193h1M239 197h1M239 201h1M240 205h1M241 209h1M241 213h1M242 217h1M243 221h1M244 225h1M245 229h1M245 233h1M246 237h1M247 241h1M248 245h1M249 249h1M250 253h1M251 257h1M252 261h1M253 265h1M254 269h1M255 273h1M256 277h1M257 281h1M258 285h1M259 289h1M260 293h1M261 297h1M262 301h1M263 305h1M264 309h1M265 313h1M267 317h1M268 321h1M269 325h1M270 329h1M271 333h1M273 337h1M274 341h1M275 345h1M277 349h1M278 353h1M279 357h1M281 361h1M282 365h1M283 369h1M285 373h1M286 377h1M288 381h1M289 385h1M291 389h1M292 393h1M294 397h1M295 401h1M297 405h1M298 409h1M300 413h1M301 417h1M303 421h1M304 425h1M306 429h1M308 433h1M309 437h1M311 441h1M313 445h1M314 449h1M316 453h1M318 457h1M319 461h1M321 465h1M323 469h1M324 473h1M326 477h1M328 481h1M330 485h1M331 489h1M333 493h1M335 497h1M337 501h1M338 505h1M340 509h1M342 513h1M344 517h1M346 521h1M347 525h1M349 529h1M351 533h1M353 537h1M354 541h1M356 545h1M358 549h1M360 553h1M361 557h1M363 561h1M365 565h1M367 569h1M368 573h1M370 577h1M372 581h1M374 585h1M375 589h1M377 593h1M379 597h1M380 601h1M382 605h1M384 609h1M385 613h1M387 617h1M388 621h1M390 625h1M391 629h1M393 633h1M394 637h1M396 641h1M397 645h1M398 649h1M400 653h1M401 657h1M402 661h1M404 665h1M405 669h1M406 673h1M407 677h1M408 681h1M410 685h1M411 689h1M412 693h1M413 697h1M414 701h1M415 705h1M416 709h1M417 713h1M418 717h1M419 721h1M419 725h1" stroke="#ff0000" stroke-width="1" fill="none" transform="translate(0,0.5)"/>
<path d="M312 81h1M312 85h1M313 89h1M313 93h1M314 97h1M315 101h1M315 105h1M316 109h1M316 113h1M317 117h1M318 121h1M318 125h1M319 129h1M320 133h1M321 137h1M321 141h1M322 145h1M323 149h1M324 153h1M325 157h1M326 161h1M326 165h1M327 169h1M328 173h1M329 177h1M330 181h1M331 185h1M332 189h1M333 193h1M334 197h1M335 201h1M336 205h1M337 209h1M338 213h1M339 217h1M340 221h1M341 225h1M343 229h1M344 233h1M345 237h1M346 241h1M347 245h1M349 249h1M350 253h1M351 257h1M352 261h1M354 265h1M355 269h1M356 273h1M357 277h1M359 281h1M360 285h1M362 289h1M363 293h1M364 297h1M366 301h1M367 305h1M369 309h1M370 313h1M372 317h1M373 321h1M374 325h1M376 329h1M378 333h1M379 337h1M381 341h1M382 345h1M384 349h1M385 353h1M387 357h1M388 361h1M390 365h1M392 369h1M393 373h1M395 377h1M396 381h1M398 385h1M400 389h1M401 393h1M403 397h1M405 401h1M406 405h1M408 409h1M409 413h1M411 417h1M413 421h1M414 425h1M416 429h1M418 433h1M419 437h1M421 441h1M423 445h1M424 449h1M426 453h1M427 457h1M429 461h1M431 465h1M432 469h1M434 473h1M435 477h1M437 481h1M438 485h1M440 489h1M442 493h1M443 497h1M444 501h1M446 505h1M447 509h1M449 513h1M450 517h1M452 521h1M453 525h1M454 529h1M456 533h1M457 537h1M458 541h1M459 545h1M461 549h1M462 553h1M463 557h1M464 561h1M465 565h1M466 569h1M467 573h1M468 577h1M469 581h1M470 585h1M471 589h1M472 593h1M473 597h1M474 601h1M474 605h1M475 609h1M476 613h1M477 617h1M477 621h1M478 625h1M479 629h1M479 633h1M480 637h1M480 641h1M481 645h1M481 649h1M482 653h1M482 657h1M482 661h1M483 665h1M483 669h1M483 673h1M484 677h1M484 681h1M484 685h1M485 689h1M485 693h1M485 697h1M485 701h1M486 705h1M486 709h1M486 713h1M486 717h1M486 721h1M486 725h1" stroke="#ff0000" stroke-width="1" fill="none" transform="translate(0,0.5)"/>
<path d="M437 81h1M438 85h1M439 89h1M440 93h1M441 97h1M442 101h1M443 105h1M445 109h1M446 113h1M447 117h1M448 121h1M449 125h1M450 129h1M451 133h1M453 137h1M454 141h1M455 145h1M456 149h1M457 153h1M459 157h1M460 161h1M461 165h1M463 169h1M464 173h1M465 177h1M467 181h1M468 185h1M469 189h1M471 193h1M472 197h1M473 201h1M475 205h1M476 209h1M478 213h1M479 217h1M481 221h1M482 225h1M484 229h1M485 233h1M487 237h1M488 241h1M490 245h1M491 249h1M493 253h1M494 257h1M496 261h1M497 265h1M499 269h1M500 273h1M502 277h1M503 281h1M505 285h1M506 289h1M508 293h1M509 297h1M511 301h1M512 305h1M514 309h1M515 313h1M517 317h1M518 321h1M520 325h1M521 329h1M523 333h1M524 337h1M526 341h1M527 345h1M529 349h1M530 353h1M532 357h1M533 361h1M534 365h1M536 369h1M537 373h1M538 377h1M540 381h1M541 385h1M542 389h1M543 393h1M545 397h1M546 401h1M547 405h1M548 409h1M549 413h1M550 417h1M551 421h1M552 425h1M553 429h1M554 433h1M555 437h1M556 441h1M557 445h1M558 449h1M559 453h1M560 457h1M560 461h1M561 465h1M562 469h1M562 473h1M563 477h1M563 481h1M564 485h1M564 489h1M565 493h1M565 497h1M566 501h1M566 505h1M566 509h1M567 513h1M567 517h1M567 521h1M567 525h1M568 529h1M568 533h1M568 537h1M568 541h1M568 545h1M568 549h1M568 553h1M568 557h1M568 561h1M568 565h1M568 569h1M567 573h1M567 577h1M567 581h1M567 585h1M567 589h1M566 593h1M566 597h1M566 601h1M566 605h1M565 609h1M565 613h1M565 617h1M564 621h1M564 625h1M564 629h1M563 633h1M563 637h1M562 641h1M562 645h1M562 649h1M561 653h1M561 657h1M560 661h1M560 665h1M560 669h1M559 673h1M559 677h1M558 681h1M558 685h1M557 689h1M557 693h1M557 697h1M556 701h1M556 705h1M556 709h1M555 713h1M555 717h1M555 721h1M554 725h1" stroke="#ff0000" stroke-width="1" fill="none" transform="translate(0,0.5)"/>
<path d="M626 81h1M628 85h1M629 89h1M630 93h1M632 97h1M633 101h1M634 105h1M636 109h1M637 113h1M639 117h1M640 121h1M641 125h1M643 129h1M644 133h1M645 137h1M647 141h1M648 145h1M649 149h1M651 153h1M652 157h1M653 161h1M655 165h1M656 169h1M657 173h1M658 177h1M660 181h1M661 185h1M662 189h1M663 193h1M665 197h1M666 201h1M667 205h1M668 209h1M669 213h1M670 217h1M671 221h1M672 225h1M673 229h1M674 233h1M675 237h1M676 241h1M677 245h1M678 249h1M679 253h1M680 257h1M680 261h1M681 265h1M682 269h1M682 273h1M683 277h1M684 281h1M684 285h1M685 289h1M685 293h1M686 297h1M686 301h1M687 305h1M687 309h1M688 313h1M688 317h1M688 321h1M689 325h1M689 329h1M689 333h1M689 337h1M689 341h1M689 345h1M689 349h1M690 353h1M690 357h1M689 361h1M689 365h1M689 369h1M689 373h1M689 377h1M689 381h1M689 385h1M688 389h1M688 393h1M688 397h1M688 401h1M687 405h1M687 409h1M686 413h1M686 417h1M686 421h1M685 425h1M685 429h1M684 433h1M684 437h1M683 441h1M682 445h1M682 449h1M681 453h1M681 457h1M680 461h1M679 465h1M679 469h1M678 473h1M677 477h1M676 481h1M676 485h1M675 489h1M674 493h1M673 497h1M673 501h1M672 505h1M671 509h1M670 513h1M669 517h1M668 521h1M668 525h1M667 529h1M666 533h1M665 537h1M664 541h1M663 545h1M662 549h1M661 553h1M660 557h1M659 561h1M658 565h1M658 569h1M657 573h1M656 577h1M655 581h1M654 585h1M653 589h1M652 593h1M651 597h1M650 601h1M649 605h1M648 609h1M647 613h1M646 617h1M645 621h1M644 625h1M644 629h1M643 633h1M642 637h1M641 641h1M640 645h1M639 649h1M638 653h1M637 657h1M636 661h1M635 665h1M634 669h1M633 673h1M633 677h1M632 681h1M631 685h1M630 689h1M629 693h1M628 697h1M627 701h1M626 705h1M626 709h1M625 713h1M624 717h1M623 721h1M622 725h1" stroke="#ff0000" stroke-width="1" fill="none" transform="translate(0,0.5)"/>
<path d="M801 401h1M800 405h1M798 409h1M797 413h1M795 417h1M794 421h1M792 425h1M791 429h1M789 433h1M788 437h1M786 441h1M785 445h1M783 449h1M782 453h1M780 457h1M779 461h1M777 465h1M776 469h1M774 473h1M773 477h1M771 481h1M770 485h1M768 489h1M767 493h1M765 497h1M764 501h1M762 505h1M761 509h1M760 513h1M758 517h1M757 521h1M755 525h1M754 529h1M753 533h1M751 537h1M750 541h1M748 545h1M747 549h1M746 553h1M744 557h1M743 561h1M741 565h1M740 569h1M739 573h1M737 577h1M736 581h1M735 585h1M733 589h1M732 593h1M731 597h1M729 601h1M728 605h1M727 609h1M725 613h1M724 617h1M723 621h1M721 625h1M720 629h1M719 633h1M717 637h1M716 641h1M715 645h1M714 649h1M712 653h1M711 657h1M710 661h1M709 665h1M707 669h1M706 673h1M705 677h1M704 681h1M703 685h1M701 689h1M700 693h1M699 697h1M698 701h1M697 705h1M696 709h1M694 713h1M693 717h1M692 721h1M691 725h1" stroke="#ff0000" stroke-width="1" fill="none" transform="translate(0,0.5)"/>
<path d="M802 609h1M801 613h1M799 617h1M798 621h1M796 625h1M795 629h1M793 633h1M792 637h1M790 641h1M788 645h1M787 649h1M785 653h1M784 657h1M783 661h1M781 665h1M780 669h1M778 673h1M777 677h1M775 681h1M774 685h1M772 689h1M771 693h1M770 697h1M768 701h1M767 705h1M766 709h1M764 713h1M763 717h1M761 721h1M760 725h1" stroke="#ff0000" stroke-width="1" fill="none" transform="translate(0,0.5)"/>
<path d="M207.1 731.0 L211.5 725.0 L215.8 719.0 L220.2 713.0 L224.6 707.0 L229.0 701.0 L233.3 695.0 L237.7 689.0 L242.1 683.0 L246.5 677.0 L250.9 671.0 L255.3 665.0 L259.7 659.0 L264.0 653.0 L268.4 647.0 L272.8 641.0 L277.3 635.0 L281.7 629.0 L286.1 623.0 L290.5 617.0 L294.9 611.0 L299.3 605.0 L303.7 599.0 L308.2 593.0 L312.6 587.0 L317.0 581.0 L321.4 575.0 L325.9 569.0 L330.3 563.0 L334.8 557.0 L339.2 551.0 L343.6 545.0 L348.1 539.0 L352.5 533.0 L357.0 527.0 L361.4 521.0 L365.9 515.0 L370.4 509.0 L374.8 503.0 L379.3 497.0 L383.8 491.0 L388.2 485.0 L392.7 479.0 L397.2 473.0 L401.7 467.0 L406.1 461.0 L410.6 455.0 L415.1 449.0 L419.6 443.0 L424.1 437.0 L428.6 431.0 L433.1 425.0 L437.6 419.0 L442.1 413.0 L446.6 407.0 L451.1 401.0 L455.6 395.0 L460.1 389.0 L464.6 383.0 L469.1 377.0 L473.7 371.0 L478.2 365.0 L482.7 359.0 L487.2 353.0 L491.8 347.0 L496.3 341.0 L499.8 336.4" stroke="#38d038" stroke-width="0.85" fill="none" stroke-dasharray="7.5 5.5" shape-rendering="crispEdges"/>
<path d="M280.5 731.0 L284.7 725.0 L288.9 719.0 L293.1 713.0 L297.4 707.0 L301.6 701.0 L305.8 695.0 L310.0 689.0 L314.3 683.0 L318.5 677.0 L322.8 671.0 L327.0 665.0 L331.3 659.0 L335.5 653.0 L339.8 647.0 L344.0 641.0 L348.3 635.0 L352.6 629.0 L356.8 623.0 L361.1 617.0 L365.4 611.0 L369.7 605.0 L374.0 599.0 L378.2 593.0 L382.5 587.0 L386.8 581.0 L391.1 575.0 L395.4 569.0 L399.7 563.0 L404.0 557.0 L408.3 551.0 L412.6 545.0 L417.0 539.0 L421.3 533.0 L425.6 527.0 L429.9 521.0 L434.2 515.0 L438.6 509.0 L442.9 503.0 L447.2 497.0 L451.6 491.0 L455.9 485.0 L460.3 479.0 L464.6 473.0 L469.0 467.0 L473.3 461.0 L477.7 455.0 L482.0 449.0 L486.4 443.0 L490.7 437.0 L495.1 431.0 L499.5 425.0 L503.9 419.0 L508.2 413.0 L512.6 407.0 L517.0 401.0 L521.4 395.0 L525.8 389.0 L530.2 383.0 L534.5 377.0 L538.9 371.0 L543.3 365.0 L547.7 359.0 L552.1 353.0 L556.5 347.0 L561.0 341.0 L564.4 336.4" stroke="#38d038" stroke-width="0.85" fill="none" stroke-dasharray="7.5 5.5" shape-rendering="crispEdges"/>
<path d="M340.8 731.0 L344.9 725.0 L349.0 719.0 L353.1 713.0 L357.2 707.0 L361.3 701.0 L365.4 695.0 L369.5 689.0 L373.6 683.0 L377.7 677.0 L381.8 671.0 L386.0 665.0 L390.1 659.0 L394.2 653.0 L398.4 647.0 L402.5 641.0 L406.6 635.0 L410.8 629.0 L414.9 623.0 L419.1 617.0 L423.3 611.0 L427.4 605.0 L431.6 599.0 L435.7 593.0 L439.9 587.0 L444.1 581.0 L448.3 575.0 L452.5 569.0 L456.6 563.0 L460.8 557.0 L465.0 551.0 L469.2 545.0 L473.4 539.0 L477.6 533.0 L481.8 527.0 L486.0 521.0 L490.2 515.0 L494.5 509.0 L498.7 503.0 L502.9 497.0 L507.1 491.0 L511.4 485.0 L515.6 479.0 L519.8 473.0 L524.1 467.0 L528.3 461.0 L532.6 455.0 L536.8 449.0 L541.1 443.0 L545.3 437.0 L549.6 431.0 L553.8 425.0 L558.1 419.0 L562.4 413.0 L566.6 407.0 L570.9 401.0 L575.2 395.0 L579.5 389.0 L583.8 383.0 L588.0 377.0 L592.3 371.0 L596.6 365.0 L600.9 359.0 L605.2 353.0 L609.5 347.0 L613.8 341.0 L617.2 336.4" stroke="#38d038" stroke-width="0.85" fill="none" stroke-dasharray="7.5 5.5" shape-rendering="crispEdges"/>
<path d="M378.2 731.0 L382.2 725.0 L386.2 719.0 L390.2 713.0 L394.2 707.0 L398.2 701.0 L402.3 695.0 L406.3 689.0 L410.3 683.0 L414.4 677.0 L418.4 671.0 L422.5 665.0 L426.5 659.0 L430.6 653.0 L434.6 647.0 L438.7 641.0 L442.8 635.0 L446.8 629.0 L450.9 623.0 L455.0 617.0 L459.1 611.0 L463.2 605.0 L467.2 599.0 L471.3 593.0 L475.4 587.0 L479.5 581.0 L483.6 575.0 L487.8 569.0 L491.9 563.0 L496.0 557.0 L500.1 551.0 L504.2 545.0 L508.3 539.0 L512.5 533.0 L516.6 527.0 L520.7 521.0 L524.9 515.0 L529.0 509.0 L533.2 503.0 L537.3 497.0 L541.5 491.0 L545.6 485.0 L549.8 479.0 L554.0 473.0 L558.1 467.0 L562.3 461.0 L566.5 455.0 L570.7 449.0 L574.9 443.0 L579.0 437.0 L583.2 431.0 L587.4 425.0 L591.6 419.0 L595.8 413.0 L600.0 407.0 L604.2 401.0 L608.4 395.0 L612.7 389.0 L616.9 383.0 L621.1 377.0 L625.3 371.0 L629.5 365.0 L633.8 359.0 L638.0 353.0 L642.2 347.0 L646.5 341.0 L649.8 336.4" stroke="#38d038" stroke-width="0.85" fill="none" stroke-dasharray="7.5 5.5" shape-rendering="crispEdges"/>
<path d="M427.6 731.0 L431.5 725.0 L435.4 719.0 L439.3 713.0 L443.2 707.0 L447.1 701.0 L451.1 695.0 L455.0 689.0 L458.9 683.0 L462.9 677.0 L466.8 671.0 L470.7 665.0 L474.7 659.0 L478.6 653.0 L482.6 647.0 L486.6 641.0 L490.5 635.0 L494.5 629.0 L498.5 623.0 L502.4 617.0 L506.4 611.0 L510.4 605.0 L514.4 599.0 L518.4 593.0 L522.4 587.0 L526.4 581.0 L530.4 575.0 L534.4 569.0 L538.4 563.0 L542.4 557.0 L546.4 551.0 L550.5 545.0 L554.5 539.0 L558.5 533.0 L562.6 527.0 L566.6 521.0 L570.6 515.0 L574.7 509.0 L578.7 503.0 L582.8 497.0 L586.8 491.0 L590.9 485.0 L595.0 479.0 L599.0 473.0 L603.1 467.0 L607.2 461.0 L611.3 455.0 L615.4 449.0 L619.5 443.0 L623.5 437.0 L627.6 431.0 L631.7 425.0 L635.9 419.0 L640.0 413.0 L644.1 407.0 L648.2 401.0 L652.3 395.0 L656.4 389.0 L660.6 383.0 L664.7 377.0 L668.8 371.0 L673.0 365.0 L677.1 359.0 L681.2 353.0 L685.4 347.0 L689.5 341.0 L692.8 336.4" stroke="#38d038" stroke-width="0.85" fill="none" stroke-dasharray="7.5 5.5" shape-rendering="crispEdges"/>
<path d="M475.5 731.0 L479.3 725.0 L483.1 719.0 L486.9 713.0 L490.7 707.0 L494.5 701.0 L498.4 695.0 L502.2 689.0 L506.0 683.0 L509.8 677.0 L513.7 671.0 L517.5 665.0 L521.3 659.0 L525.2 653.0 L529.0 647.0 L532.9 641.0 L536.8 635.0 L540.6 629.0 L544.5 623.0 L548.4 617.0 L552.2 611.0 L556.1 605.0 L560.0 599.0 L563.9 593.0 L567.8 587.0 L571.7 581.0 L575.6 575.0 L579.5 569.0 L583.4 563.0 L587.3 557.0 L591.3 551.0 L595.2 545.0 L599.1 539.0 L603.1 533.0 L607.0 527.0 L610.9 521.0 L614.9 515.0 L618.8 509.0 L622.8 503.0 L626.7 497.0 L630.7 491.0 L634.7 485.0 L638.6 479.0 L642.6 473.0 L646.6 467.0 L650.6 461.0 L654.6 455.0 L658.6 449.0 L662.6 443.0 L666.6 437.0 L670.6 431.0 L674.6 425.0 L678.6 419.0 L682.6 413.0 L686.6 407.0 L690.7 401.0 L694.7 395.0 L698.7 389.0 L702.7 383.0 L706.8 377.0 L710.8 371.0 L714.9 365.0 L718.9 359.0 L723.0 353.0 L727.0 347.0 L731.1 341.0 L734.3 336.4" stroke="#38d038" stroke-width="0.85" fill="none" stroke-dasharray="7.5 5.5" shape-rendering="crispEdges"/>
<path d="M550.6 731.0 L554.2 725.0 L557.9 719.0 L561.5 713.0 L565.1 707.0 L568.8 701.0 L572.4 695.0 L576.0 689.0 L579.7 683.0 L583.3 677.0 L587.0 671.0 L590.7 665.0 L594.4 659.0 L598.0 653.0 L601.7 647.0 L605.4 641.0 L609.1 635.0 L612.8 629.0 L616.5 623.0 L620.2 617.0 L623.9 611.0 L627.6 605.0 L631.4 599.0 L635.1 593.0 L638.8 587.0 L642.6 581.0 L646.3 575.0 L650.0 569.0 L653.8 563.0 L657.6 557.0 L661.3 551.0 L665.1 545.0 L668.9 539.0 L672.6 533.0 L676.4 527.0 L680.2 521.0 L684.0 515.0 L687.8 509.0 L691.6 503.0 L695.4 497.0 L699.2 491.0 L703.0 485.0 L706.8 479.0 L710.7 473.0 L714.5 467.0 L718.3 461.0 L722.2 455.0 L726.0 449.0 L729.8 443.0 L733.7 437.0 L737.6 431.0 L741.4 425.0 L745.3 419.0 L749.1 413.0 L753.0 407.0 L756.9 401.0 L760.8 395.0 L764.7 389.0 L768.6 383.0 L772.4 377.0 L776.3 371.0 L780.3 365.0 L784.2 359.0 L788.1 353.0 L792.0 347.0 L795.9 341.0 L799.0 336.4" stroke="#38d038" stroke-width="0.85" fill="none" stroke-dasharray="7.5 5.5" shape-rendering="crispEdges"/>
<path d="M575.9 731.0 L579.5 725.0 L583.0 719.0 L586.6 713.0 L590.1 707.0 L593.7 701.0 L597.3 695.0 L600.9 689.0 L604.5 683.0 L608.1 677.0 L611.7 671.0 L615.3 665.0 L618.9 659.0 L622.5 653.0 L626.2 647.0 L629.8 641.0 L633.4 635.0 L637.1 629.0 L640.7 623.0 L644.4 617.0 L648.0 611.0 L651.7 605.0 L655.3 599.0 L659.0 593.0 L662.7 587.0 L666.4 581.0 L670.1 575.0 L673.7 569.0 L677.4 563.0 L681.1 557.0 L684.9 551.0 L688.6 545.0 L692.3 539.0 L696.0 533.0 L699.7 527.0 L703.5 521.0 L707.2 515.0 L710.9 509.0 L714.7 503.0 L718.4 497.0 L722.2 491.0 L726.0 485.0 L729.7 479.0 L733.5 473.0 L737.3 467.0 L741.1 461.0 L744.8 455.0 L748.6 449.0 L752.4 443.0 L756.2 437.0 L760.0 431.0 L763.8 425.0 L767.7 419.0 L771.5 413.0 L775.3 407.0 L779.1 401.0 L783.0 395.0 L786.8 389.0 L790.6 383.0 L794.5 377.0 L798.3 371.0 L802.2 365.0 L806.0 359.0 L809.9 353.0 L813.8 347.0 L817.6 341.0 L820.6 336.4" stroke="#38d038" stroke-width="0.85" fill="none" stroke-dasharray="7.5 5.5" shape-rendering="crispEdges"/>
<text x="0" y="0" font-size="12.5" fill="#38d038" transform="translate(509.0,334.2) rotate(-68)">0.4</text>
<text x="0" y="0" font-size="12.5" fill="#38d038" transform="translate(573.6,334.2) rotate(-68)">1</text>
<text x="0" y="0" font-size="12.5" fill="#38d038" transform="translate(626.4,334.2) rotate(-68)">2</text>
<text x="0" y="0" font-size="12.5" fill="#38d038" transform="translate(659.0,334.2) rotate(-68)">3</text>
<text x="0" y="0" font-size="12.5" fill="#38d038" transform="translate(702.0,334.2) rotate(-68)">5</text>
<text x="0" y="0" font-size="12.5" fill="#38d038" transform="translate(743.5,334.2) rotate(-68)">8</text>
<text x="0" y="0" font-size="12.5" fill="#38d038" transform="translate(808.2,334.2) rotate(-68)">16</text>
<text x="0" y="0" font-size="12.5" fill="#38d038" transform="translate(829.8,334.2) rotate(-68)">20</text>
<text x="217" y="209" font-size="11" fill="#1a1a1a">200mb</text>
<text x="217" y="334" font-size="11" fill="#1a1a1a">300mb</text>
<text x="217" y="423" font-size="11" fill="#1a1a1a">400mb</text>
<text x="217" y="492" font-size="11" fill="#1a1a1a">500mb</text>
<text x="217" y="548" font-size="11" fill="#1a1a1a">600mb</text>
<text x="217" y="596" font-size="11" fill="#1a1a1a">700mb</text>
<text x="217" y="637" font-size="11" fill="#1a1a1a">800mb</text>
<text x="217" y="673" font-size="11" fill="#1a1a1a">900mb</text>
<text x="217" y="706" font-size="11" fill="#1a1a1a">1000mb</text>
<text x="788" y="714.0" font-size="11" fill="#808080">0</text>
<text x="788" y="656.3" font-size="11" fill="#808080">5</text>
<text x="788" y="598.6" font-size="11" fill="#808080">10</text>
<text x="788" y="540.9" font-size="11" fill="#808080">15</text>
<text x="788" y="483.2" font-size="11" fill="#808080">20</text>
<text x="788" y="425.5" font-size="11" fill="#808080">25</text>
<text x="788" y="367.8" font-size="11" fill="#808080">30</text>
<text x="788" y="310.1" font-size="11" fill="#808080">35</text>
<text x="788" y="252.4" font-size="11" fill="#808080">40</text>
<text x="788" y="194.7" font-size="11" fill="#808080">45</text>
<text x="788" y="137.0" font-size="11" fill="#808080">50</text>
<text font-size="11" fill="#808080" transform="translate(794.7,87) rotate(90)">Height</text>
<text font-size="11" fill="#808080" transform="translate(781.5,83.5) rotate(90)">(1000ft)</text>
<path d="M465.6 701.4 L459.8 700.2 L462.0 695.1 L459.0 679.8 L458.3 674.0 L456.9 663.8 L455.4 653.5 L456.9 648.4 L450.3 634.6 L449.6 621.5 L449.8 609.6 L453.3 598.1 L466.9 591.2 L473.8 586.7 L475.2 570.0 L477.3 553.3 L481.5 539.8 L485.6 532.5 L484.6 517.9 L488.3 506.5 L488.3 500.2 L486.2 490.8 L483.5 482.5 L481.0 475.2 L476.9 453.3 L470.6 426.2 L467.1 407.5 L464.4 382.5 L463.3 357.5 L468.1 336.7 L467.5 320.0 L468.1 303.9 L470.3 288.4 L479.8 279.8 L477.6 266.5 L489.4 238.8 L515.5 227.4 L524.6 213.3 L532.6 210.4 L541.1 199.6 L546.6 192.2 L548.5 172.5 L552.6 166.2 L579.2 160.2 L580.5 131.4 L581.7 113.4 L589.6 92.4 L615.0 86.3 L623.7 78.6 L625.5 77.0" stroke="#e8e800" stroke-width="1" fill="none" stroke-dasharray="9 4" shape-rendering="crispEdges"/>
<path d="M421.1 700.2 L427.0 700.0 L431.4 699.5 L433.5 694.4 L436.5 688.5 L442.3 679.8 L444.5 674.0 L446.7 668.1 L448.9 663.0 L451.8 656.5 L449.6 651.4 L442.3 650.2 L419.0 648.7 L399.5 648.5 L381.3 646.5 L344.8 641.2 L316.2 638.1 L290.1 635.0 L282.3 629.0 L258.9 612.1 L238.0 604.8 L215.9 598.5 L205.0 597.5 L215.9 598.0 L245.9 595.9 L277.1 593.9 L318.8 591.8 L357.8 589.2 L378.7 587.9 L394.3 586.8 L387.3 584.7 L377.3 580.4 L383.0 566.1 L392.2 543.2 L385.0 526.0 L383.0 514.5 L375.0 510.3 L368.7 505.4 L385.9 496.0 L388.8 492.2 L375.9 464.5 L353.0 417.2 L342.9 395.7 L331.0 378.6 L326.9 369.0 L320.6 359.5 L324.2 341.7 L325.5 336.3 L335.1 317.1 L343.3 304.8 L348.0 281.0 L342.0 279.7 L339.8 269.3 L344.7 254.2 L351.5 236.5 L350.7 232.4 L328.3 222.3 L322.8 217.3 L316.5 213.2 L325.5 209.1 L331.0 195.5 L332.8 187.4 L338.8 176.4 L343.8 166.2 L350.6 163.4 L358.2 158.6 L360.8 145.1 L363.8 133.2 L366.2 123.1 L366.4 113.8 L370.1 109.5 L374.3 103.6 L378.2 97.7 L382.8 91.8 L388.7 88.4 L391.2 87.5 L401.4 78.2 L403.0 76.5" stroke="#0000ff" stroke-width="1" fill="none" stroke-dasharray="8 4" shape-rendering="crispEdges"/>
<path d="M503.5 702.0 L489.0 700.5 L456.9 653.8 L462.7 651.4 L481.7 649.2 L493.3 647.7 L500.6 636.0 L499.2 620.0 L496.0 612.3 L503.8 597.5 L505.4 589.2 L510.6 582.5 L505.0 544.0 L514.2 535.0 L510.0 517.5 L515.8 507.1 L501.2 478.3 L492.5 455.4 L482.1 426.2 L474.8 407.5 L470.6 374.2 L468.5 358.5 L472.7 338.8 L471.9 330.0 L470.6 303.9 L472.8 288.4 L482.3 279.8 L480.1 266.5 L491.9 238.8 L518.0 227.4 L527.1 213.3 L535.1 210.4 L543.6 199.6 L549.1 192.2 L551.0 172.5 L555.1 166.2 L581.7 160.2 L583.0 131.4 L584.2 113.4 L592.1 92.4 L617.5 86.3 L626.2 78.6 L628.0 77.0" stroke="#0000ff" stroke-width="2.5" fill="none" stroke-linejoin="round" shape-rendering="auto"/>
</g>
<text x="254.2" y="745" font-size="13.5" fill="#ff0000" text-anchor="middle" shape-rendering="auto">-20</text>
<text x="324.2" y="745" font-size="13.5" fill="#ff0000" text-anchor="middle" shape-rendering="auto">-10</text>
<text x="388.8" y="745" font-size="13.5" fill="#ff0000" text-anchor="middle" shape-rendering="auto">0</text>
<text x="462.0" y="745" font-size="13.5" fill="#ff0000" text-anchor="middle" shape-rendering="auto">10</text>
<text x="532.0" y="745" font-size="13.5" fill="#ff0000" text-anchor="middle" shape-rendering="auto">20</text>
<text x="602.0" y="745" font-size="13.5" fill="#ff0000" text-anchor="middle" shape-rendering="auto">30</text>
<text x="672.0" y="745" font-size="13.5" fill="#ff0000" text-anchor="middle" shape-rendering="auto">40</text>
<text x="742.0" y="745" font-size="13.5" fill="#ff0000" text-anchor="middle" shape-rendering="auto">50</text>
<rect x="860.5" y="76" width="2" height="653" fill="#e6e6e6"/>
<defs><clipPath id="wc"><rect x="800" y="78" width="160" height="690"/></clipPath></defs>
<g clip-path="url(#wc)" stroke="#0000ff" fill="#0000ff" stroke-width="1" shape-rendering="crispEdges"><line x1="861.5" y1="92.7" x2="843.6" y2="62.6"/><polygon points="843.6,62.6 851.0,54.5 846.9,68.2"/><line x1="846.9" y1="68.2" x2="854.3" y2="60.1"/><line x1="861.5" y1="122.8" x2="839.5" y2="94.7"/><polygon points="839.5,94.7 845.8,85.7 843.5,99.8"/><line x1="843.5" y1="99.8" x2="849.8" y2="90.8"/><line x1="847.8" y1="105.3" x2="854.1" y2="96.3"/><line x1="852.1" y1="110.8" x2="858.4" y2="101.8"/><line x1="861.5" y1="159.5" x2="838.3" y2="132.1"/><polygon points="838.3,132.1 844.2,122.8 842.5,137.1"/><line x1="842.5" y1="137.1" x2="848.5" y2="127.8"/><line x1="847.0" y1="142.4" x2="850.0" y2="137.8"/><line x1="861.5" y1="170.4" x2="833.2" y2="147.0"/><polygon points="833.2,147.0 837.4,136.8 838.2,151.1"/><line x1="838.2" y1="151.1" x2="842.4" y2="141.0"/><line x1="843.6" y1="155.6" x2="847.8" y2="145.4"/><line x1="861.5" y1="192.6" x2="841.4" y2="162.7"/><polygon points="841.4,162.7 848.3,154.2 845.0,168.1"/><line x1="845.0" y1="168.1" x2="852.0" y2="159.6"/><line x1="848.9" y1="173.9" x2="855.9" y2="165.4"/><line x1="852.8" y1="179.7" x2="859.8" y2="171.2"/><line x1="861.5" y1="213.0" x2="845.4" y2="182.0"/><polygon points="845.4,182.0 853.3,174.3 848.4,187.8"/><line x1="848.4" y1="187.8" x2="856.2" y2="180.1"/><line x1="851.6" y1="194.0" x2="859.5" y2="186.3"/><line x1="854.8" y1="200.2" x2="862.7" y2="192.5"/><line x1="861.5" y1="227.0" x2="845.4" y2="195.6"/><polygon points="845.4,195.6 853.3,187.9 848.4,201.4"/><line x1="848.4" y1="201.4" x2="856.3" y2="193.7"/><line x1="851.6" y1="207.6" x2="859.5" y2="200.0"/><line x1="854.8" y1="213.8" x2="858.7" y2="210.0"/><line x1="861.5" y1="238.0" x2="845.3" y2="207.0"/><polygon points="845.3,207.0 853.1,199.3 848.3,212.8"/><line x1="848.3" y1="212.8" x2="856.1" y2="205.0"/><line x1="851.6" y1="219.0" x2="859.4" y2="211.2"/><line x1="854.8" y1="225.2" x2="862.6" y2="217.4"/><line x1="861.5" y1="251.0" x2="848.0" y2="219.0"/><line x1="848.0" y1="219.0" x2="856.4" y2="211.9"/><line x1="850.7" y1="225.4" x2="859.2" y2="218.4"/><line x1="853.4" y1="231.9" x2="861.9" y2="224.8"/><line x1="861.5" y1="270.0" x2="850.6" y2="236.0"/><polygon points="850.6,236.0 859.6,229.7 852.6,242.2"/><line x1="852.6" y1="242.2" x2="861.6" y2="235.9"/><line x1="854.7" y1="248.9" x2="863.8" y2="242.6"/><line x1="861.5" y1="289.0" x2="851.3" y2="254.8"/><polygon points="851.3,254.8 860.5,248.7 853.2,261.0"/><line x1="853.2" y1="261.0" x2="862.3" y2="254.9"/><line x1="855.2" y1="267.7" x2="864.3" y2="261.6"/><line x1="857.2" y1="274.4" x2="866.3" y2="268.4"/><line x1="861.5" y1="306.0" x2="852.6" y2="271.7"/><polygon points="852.6,271.7 862.0,265.9 854.2,278.0"/><line x1="854.2" y1="278.0" x2="863.6" y2="272.2"/><line x1="856.0" y1="284.8" x2="865.4" y2="279.0"/><line x1="857.7" y1="291.5" x2="867.1" y2="285.8"/><line x1="861.5" y1="322.0" x2="853.0" y2="288.0"/><line x1="853.0" y1="288.0" x2="862.4" y2="282.3"/><line x1="854.7" y1="294.8" x2="864.1" y2="289.1"/><line x1="856.4" y1="301.6" x2="865.8" y2="295.9"/><line x1="861.5" y1="339.0" x2="853.6" y2="304.3"/><polygon points="853.6,304.3 863.1,298.8 855.0,310.6"/><line x1="855.0" y1="310.6" x2="864.6" y2="305.2"/><line x1="856.6" y1="317.5" x2="866.1" y2="312.0"/><line x1="861.5" y1="359.5" x2="854.5" y2="325.6"/><polygon points="854.5,325.6 864.2,320.3 855.8,332.0"/><line x1="855.8" y1="332.0" x2="865.5" y2="326.7"/><line x1="857.2" y1="338.8" x2="866.9" y2="333.5"/><line x1="858.6" y1="345.7" x2="863.5" y2="343.0"/><line x1="861.5" y1="406.0" x2="856.5" y2="371.9"/><polygon points="856.5,371.9 866.4,367.2 857.4,378.3"/><line x1="857.4" y1="378.3" x2="867.4" y2="373.6"/><line x1="858.5" y1="385.3" x2="863.4" y2="382.9"/><line x1="861.5" y1="425.2" x2="859.7" y2="392.7"/><polygon points="859.7,392.7 870.0,388.9 860.1,399.2"/><line x1="860.1" y1="399.2" x2="870.4" y2="395.4"/><line x1="860.4" y1="406.2" x2="865.6" y2="404.3"/><line x1="861.5" y1="494.0" x2="860.1" y2="459.0"/><polygon points="860.1,459.0 870.5,455.4 860.4,465.5"/><line x1="860.4" y1="465.5" x2="870.7" y2="461.9"/><line x1="860.6" y1="472.5" x2="865.8" y2="470.7"/><line x1="861.5" y1="516.0" x2="861.0" y2="481.0"/><polygon points="861.0,481.0 871.5,477.6 861.1,487.5"/><line x1="861.1" y1="487.5" x2="871.6" y2="484.1"/><line x1="861.5" y1="543.6" x2="861.0" y2="508.4"/><polygon points="861.0,508.4 871.5,505.0 861.1,514.9"/><line x1="861.1" y1="514.9" x2="866.3" y2="513.2"/><line x1="862.2" y1="553" x2="861.3" y2="612" stroke-width="2"/><polygon points="862.3,553.1 873.6,550.2 862.3,557.9"/><line x1="862.3" y1="559.2" x2="867.8" y2="558.3"/><line x1="862.5" y1="563.3" x2="875.6" y2="559.3"/><line x1="862.5" y1="570.5" x2="872.7" y2="567.5"/><line x1="862.0" y1="577.5" x2="875.6" y2="573.5"/><line x1="862.0" y1="584.0" x2="872.7" y2="580.5"/><line x1="862.0" y1="584.8" x2="872.7" y2="581.6"/><line x1="862.0" y1="590.5" x2="872.0" y2="587.4"/><line x1="861.0" y1="597.5" x2="872.0" y2="594.4"/><line x1="861.0" y1="604.5" x2="866.0" y2="603.4"/><line x1="860.2" y1="635.4" x2="868.8" y2="601.8"/><line x1="868.8" y1="601.8" x2="879.8" y2="601.3"/><line x1="867.1" y1="608.6" x2="878.1" y2="608.1"/><line x1="865.3" y1="615.4" x2="876.3" y2="614.9"/><line x1="860.5" y1="657.6" x2="866.5" y2="623.3"/><line x1="866.5" y1="623.3" x2="877.4" y2="621.9"/><line x1="861.0" y1="648.0" x2="875.0" y2="614.7"/><line x1="875.0" y1="614.7" x2="885.9" y2="615.8"/><line x1="872.3" y1="621.2" x2="883.2" y2="622.3"/><line x1="869.6" y1="627.6" x2="875.0" y2="628.2"/><line x1="860.2" y1="683.3" x2="894.7" y2="690.4"/><line x1="887.8" y1="689.0" x2="888.4" y2="694.5"/><line x1="860.2" y1="701.0" x2="877.8" y2="732.8"/><line x1="874.4" y1="726.7" x2="870.6" y2="730.6"/></g>
<g shape-rendering="auto"><circle cx="100.1" cy="84.1" r="52.5" fill="#f4c000"/><circle cx="100.1" cy="84.1" r="49.9" fill="#15552c"/><circle cx="100.1" cy="84.1" r="31.3" fill="#f4c000"/><circle cx="100.1" cy="84.1" r="30.0" fill="#15552c"/><circle cx="100.1" cy="84.1" r="29.2" fill="#fff"/><polygon points="75.1,57.5 81.6,58.5 85.3,63.6 92.1,62.5 98.9,64.0 106.5,62.1 114.1,59.1 117.1,57.5 124.6,59.5 129.5,61.8 129.9,67.8 128.0,73.9 129.2,79.9 127.2,87.5 127.7,101.8 72.5,102.6 72.2,90.5 74.0,81.4 75.1,69.3" fill="#fff"/><polygon points="75.7,58.5 81.6,59.1 85.3,64.2 92.1,63.1 98.9,64.7 106.5,62.7 114.1,59.7 117.1,58.2 124.6,60.1 129.0,62.2 129.2,69.3 124.6,73.9 115.6,67.8 111.0,66.3 105.0,68.6 97.4,72.4 89.9,73.9 82.3,73.1 77.0,76.1 75.5,76.9" fill="#1f4182"/><polygon points="79.6,77.2 81.3,86.1 80.5,86.1 83.4,99.6 75.8,99.6 78.7,86.1 77.9,86.1" fill="#15552c"/><polygon points="85.0,72.1 86.9,82.8 86.1,82.8 89.3,98.8 80.8,98.8 84.0,82.8 83.2,82.8" fill="#15552c"/><polygon points="90.3,75.1 92.0,84.3 91.2,84.3 94.1,98.1 86.5,98.1 89.4,84.3 88.7,84.3" fill="#15552c"/><polygon points="95.5,73.9 97.1,82.9 96.4,82.9 99.2,96.5 91.7,96.5 94.6,82.9 93.8,82.9" fill="#15552c"/><polygon points="104.2,68.7 106.2,79.9 105.3,79.9 108.8,96.5 99.7,96.5 103.1,79.9 102.2,79.9" fill="#15552c"/><polygon points="111.9,65.4 114.1,78.5 113.1,78.5 116.8,98.1 107.1,98.1 110.8,78.5 109.8,78.5" fill="#15552c"/><polygon points="120.1,74.8 122.0,85.0 121.1,85.0 124.3,100.3 115.9,100.3 119.1,85.0 118.2,85.0" fill="#15552c"/><polygon points="73.5,101.5 85.3,96.5 97.4,91.3 106.5,92.3 118.6,96.8 127.7,100.8 127.7,102.1 73.5,102.4" fill="#1f4182"/><polygon points="75.1,57.5 81.6,58.5 85.3,63.6 92.1,62.5 98.9,64.0 106.5,62.1 114.1,59.1 117.1,57.5 124.6,59.5 129.5,61.8 129.9,67.8 128.0,73.9 129.2,79.9 127.2,87.5 127.7,101.8 72.5,102.6 72.2,90.5 74.0,81.4 75.1,69.3" fill="none" stroke="#f4c000" stroke-width="1.6" stroke-linejoin="round"/><path id="arcTop" d="M79.54 57.78 A33.40 33.40 0 0 1 121.57 58.51" fill="none"/><path id="arcBot" d="M55.20 74.56 A45.90 45.90 0 1 0 145.00 74.56" fill="none"/><text font-size="15.5" font-weight="bold" fill="#f4c000" textLength="45.5" lengthAdjust="spacingAndGlyphs"><textPath href="#arcTop" textLength="45.5" lengthAdjust="spacingAndGlyphs">OREGON</textPath></text><text font-size="15.5" font-weight="bold" fill="#f4c000" textLength="163.4" lengthAdjust="spacingAndGlyphs"><textPath href="#arcBot" textLength="163.4" lengthAdjust="spacingAndGlyphs">DEPARTMENT OF FORESTRY</textPath></text></g>
</svg>
<div id="frame"></div>
<div id="title">Skew-T Log-P</div>
<div id="sub">KMFR 0000Z 17 FEB 22</div>
<div class="row" style="top:167px">1000-500 mb thick:<span>5472.00 m</span></div>
<div class="row" style="top:186px">Freezing level:<span>4691.01 ft</span></div>
<div class="row" style="top:205px">Freezing level:<span>5806.14 ft</span></div>
<div class="row" style="top:224px">Freezing level:<span>7896.66 ft</span></div>
<div class="row" style="top:243px">Wetbulb zero:<span>4274.51 ft</span></div>
<div class="row" style="top:262px">Precipitable water:<span>0.34 inches</span></div>
<div class="row" style="top:281px">Sfc-500 mean rel hum:<span>32.39 %</span></div>
<div class="row" style="top:300px">Est. max temperature:<span>11.93 C</span></div>
<div class="row" style="top:319px">Sfc-Lift cond lev (LCL):<span>841.73 mb</span></div>
<div class="row" style="top:338px">700-500 lapse rate:<span>5.24 C/km</span></div>
<div class="row" style="top:357px">ThetaE index:<span>2.95 C</span></div>
<div class="row" style="top:376px">Conv cond level (CCL):<span>845.12 mb</span></div>
<div class="row ind" style="top:395px">Mean mixing ratio:<span>4.08 g/kg</span></div>
<div class="row ind" style="top:414px">Conv temperature:<span>10.33 C</span></div>
<div class="row" style="top:433px">Cap Strength:<span>15.26 C</span></div>
<div class="row" style="top:452px">Lifted Index:<span>15.04 C</span></div>
<div class="row" style="top:471px">Lifted Index @300 mb:<span>19.68 C</span></div>
<div class="row" style="top:490px">Lifted Index @700 mb:<span>8.66 C</span></div>
<div class="row" style="top:509px">Showalter Index:<span>15.10 C</span></div>
<div class="row" style="top:528px">Total Totals Index:<span>30.30 C</span></div>
<div class="row ind" style="top:547px">Vertical Totals Index:<span>15.60 C</span></div>
<div class="row ind" style="top:566px">Cross Totals Index:<span>14.70 C</span></div>
<div class="row" style="top:585px">K Index:<span>-27.40</span></div>
<div class="row" style="top:604px">Sweat Index:<span>80.00</span></div>
<div class="row" style="top:623px">Energy Index:<span>3.87</span></div>
<div class="row" style="top:642px">Yonker Mixing Height:<span>4683 ft</span></div>
<div class="row" style="top:661px">Transport wind:<span>036/09</span></div>
</body></html>
